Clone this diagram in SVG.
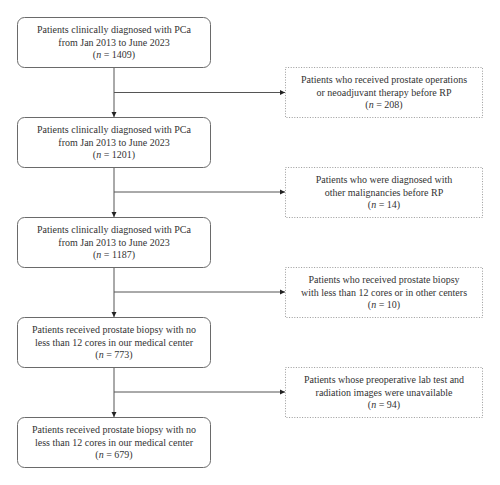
<svg xmlns="http://www.w3.org/2000/svg" width="500" height="485" viewBox="0 0 500 485">
<defs>
<style>
.main{fill:#fff;stroke:#6a6a6a;stroke-width:1}
.excl{fill:#fff;stroke:#9a9a9a;stroke-width:1;stroke-dasharray:1 1.6}
.t{font-family:"Liberation Serif","Times New Roman",serif;font-size:10px;fill:#333;text-anchor:middle}
.c{stroke:#555;stroke-width:1;fill:none}
</style>
<marker id="ah" markerUnits="userSpaceOnUse" markerWidth="6" markerHeight="6" refX="5" refY="3" orient="auto">
<path d="M0,0.5 L5,3 L0,5.5 Z" fill="#222"/>
</marker>
</defs>
<rect width="500" height="485" fill="#fff"/>
<g id="connectors">
<line class="c" x1="114" y1="68" x2="114" y2="117" marker-end="url(#ah)"/>
<line class="c" x1="114" y1="92.5" x2="285" y2="92.5" marker-end="url(#ah)"/>
<line class="c" x1="114" y1="167" x2="114" y2="217" marker-end="url(#ah)"/>
<line class="c" x1="114" y1="192" x2="285" y2="192" marker-end="url(#ah)"/>
<line class="c" x1="114" y1="267" x2="114" y2="317" marker-end="url(#ah)"/>
<line class="c" x1="114" y1="292" x2="285" y2="292" marker-end="url(#ah)"/>
<line class="c" x1="114" y1="367" x2="114" y2="417" marker-end="url(#ah)"/>
<line class="c" x1="114" y1="392" x2="285" y2="392" marker-end="url(#ah)"/>
</g>
<g id="n1">
<rect class="main" x="17.5" y="17.5" width="193" height="50" rx="7"/>
<text class="t" x="114" y="33">Patients clinically diagnosed with PCa</text>
<text class="t" x="114" y="45.5">from Jan 2013 to June 2023</text>
<text class="t" x="114" y="58">(<tspan font-style="italic">n</tspan> = 1409)</text>
</g>
<g id="n2">
<rect class="main" x="17.5" y="117.5" width="193" height="50" rx="7"/>
<text class="t" x="114" y="133">Patients clinically diagnosed with PCa</text>
<text class="t" x="114" y="145.5">from Jan 2013 to June 2023</text>
<text class="t" x="114" y="158">(<tspan font-style="italic">n</tspan> = 1201)</text>
</g>
<g id="n3">
<rect class="main" x="17.5" y="217.5" width="193" height="50" rx="7"/>
<text class="t" x="114" y="233">Patients clinically diagnosed with PCa</text>
<text class="t" x="114" y="245.5">from Jan 2013 to June 2023</text>
<text class="t" x="114" y="258">(<tspan font-style="italic">n</tspan> = 1187)</text>
</g>
<g id="n4">
<rect class="main" x="17.5" y="317.5" width="193" height="50" rx="7"/>
<text class="t" x="114" y="333">Patients received prostate biopsy with no</text>
<text class="t" x="114" y="345.5">less than 12 cores in our medical center</text>
<text class="t" x="114" y="358">(<tspan font-style="italic">n</tspan> = 773)</text>
</g>
<g id="n5">
<rect class="main" x="17.5" y="417.5" width="193" height="50" rx="7"/>
<text class="t" x="114" y="433">Patients received prostate biopsy with no</text>
<text class="t" x="114" y="445.5">less than 12 cores in our medical center</text>
<text class="t" x="114" y="458">(<tspan font-style="italic">n</tspan> = 679)</text>
</g>
<g id="e1">
<rect class="excl" x="285.5" y="67.5" width="197" height="50"/>
<text class="t" x="384" y="83">Patients who received prostate operations</text>
<text class="t" x="384" y="95.5">or neoadjuvant therapy before RP</text>
<text class="t" x="384" y="108">(<tspan font-style="italic">n</tspan> = 208)</text>
</g>
<g id="e2">
<rect class="excl" x="285.5" y="167.5" width="197" height="50"/>
<text class="t" x="384" y="183">Patients who were diagnosed with</text>
<text class="t" x="384" y="195.5">other malignancies before RP</text>
<text class="t" x="384" y="208">(<tspan font-style="italic">n</tspan> = 14)</text>
</g>
<g id="e3">
<rect class="excl" x="285.5" y="267.5" width="197" height="50"/>
<text class="t" x="384" y="283">Patients who received prostate biopsy</text>
<text class="t" x="384" y="295.5">with less than 12 cores or in other centers</text>
<text class="t" x="384" y="308">(<tspan font-style="italic">n</tspan> = 10)</text>
</g>
<g id="e4">
<rect class="excl" x="285.5" y="367.5" width="197" height="50"/>
<text class="t" x="384" y="383">Patients whose preoperative lab test and</text>
<text class="t" x="384" y="395.5">radiation images were unavailable</text>
<text class="t" x="384" y="408">(<tspan font-style="italic">n</tspan> = 94)</text>
</g>
</svg>
